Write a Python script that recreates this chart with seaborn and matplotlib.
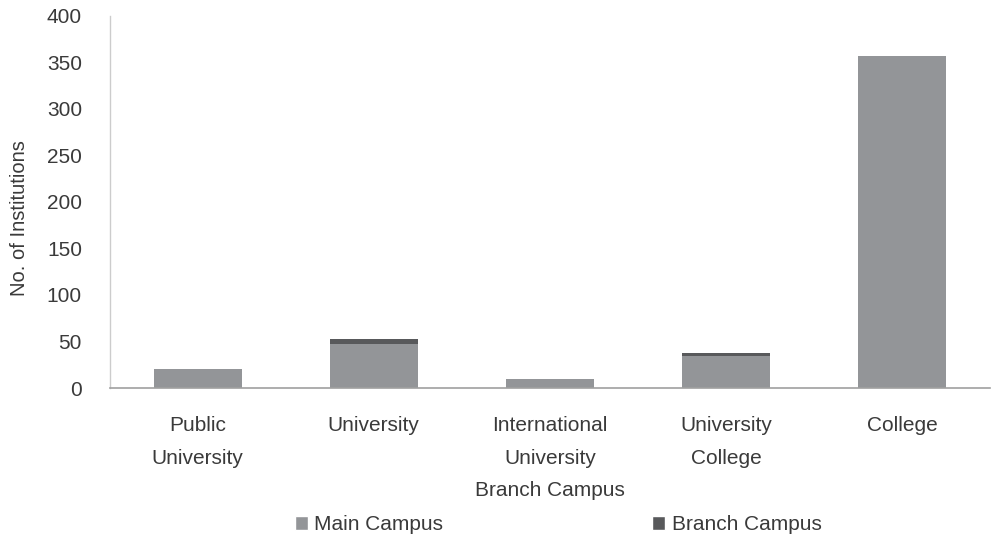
import matplotlib
matplotlib.use("Agg")
import matplotlib.pyplot as plt
import seaborn as sns
import pandas as pd
from matplotlib.patches import Patch

categories = ["Public\nUniversity", "University", "International\nUniversity\nBranch Campus",
              "University\nCollege", "College"]
main_campus = [20, 47, 10, 34, 357]
branch_campus = [0, 6, 0, 4, 0]
y_ticks = [0, 50, 100, 150, 200, 250, 300, 350, 400]

main_color = "#939598"
branch_color = "#58595b"
text_color = "#3a3a3a"
fs = 15

sns.set_theme(style="white")
plt.rcParams['font.family'] = ['Liberation Sans', 'DejaVu Sans']

df = pd.DataFrame({"cat": categories, "main": main_campus, "branch": branch_campus})
df["total"] = df["main"] + df["branch"]

fig = plt.figure(figsize=(9.97, 5.45), dpi=100)
ax = fig.add_axes([0.110, 0.288, 0.883, 0.683])

sns.barplot(data=df, x="cat", y="total", color=branch_color, saturation=1, width=0.5,
            linewidth=0, ax=ax)
sns.barplot(data=df, x="cat", y="main", color=main_color, saturation=1, width=0.5,
            linewidth=0, ax=ax)

ax.set_ylim(0, 400)
ax.set_xlim(-0.5, 4.5)
ax.set_yticks(y_ticks)
ax.set_yticklabels([str(v) for v in y_ticks], fontsize=fs, color=text_color)
ax.tick_params(axis="y", length=0, pad=20)
ax.tick_params(axis="x", length=0, pad=20, labelsize=fs, labelcolor=text_color)
for lbl in ax.get_xticklabels():
    lbl.set_linespacing(1.92)
ax.set_xlabel("")
ax.set_ylabel("No. of Institutions", fontsize=14.5, color=text_color, labelpad=6)
ax.yaxis.set_label_coords(-0.092, 0.457)

for s in ["top", "right"]:
    ax.spines[s].set_visible(False)
ax.spines["left"].set_color("#cccccc")
ax.spines["bottom"].set_color("#a0a0a0")
ax.spines["left"].set_linewidth(1)
ax.spines["bottom"].set_linewidth(1.2)

handles = [Patch(facecolor=main_color, label="Main Campus"),
           Patch(facecolor=branch_color, label="Branch Campus")]
fig.legend(handles=handles, loc="center", bbox_to_anchor=(0.5597, 0.037), ncol=2,
           frameon=False, fontsize=fs, handlelength=0.65, handleheight=0.65,
           handletextpad=0.3, columnspacing=10.0, labelcolor=text_color)

fig.savefig("out.png", dpi=100)
